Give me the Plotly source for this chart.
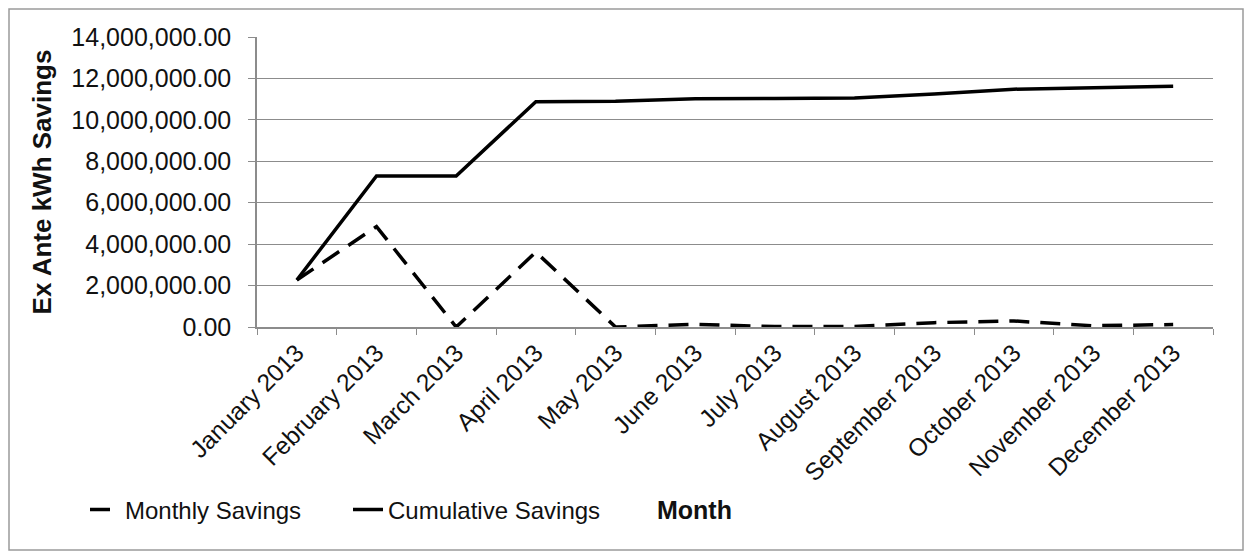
import plotly.graph_objects as go

# Month labels along the category axis
months = [
    "January 2013", "February 2013", "March 2013", "April 2013",
    "May 2013", "June 2013", "July 2013", "August 2013",
    "September 2013", "October 2013", "November 2013", "December 2013",
]

# Ex ante kWh savings per month
monthly_savings = [
    2270000, 4850000, 0, 3620000, 0, 130000,
    20000, 20000, 210000, 290000, 60000, 120000,
]

# Running total of ex ante kWh savings
cumulative_savings = [
    2270000, 7290000, 7290000, 10880000, 10900000, 11020000,
    11030000, 11050000, 11250000, 11480000, 11550000, 11620000,
]

FONT = "Liberation Sans, Arial, sans-serif"
INK = "#111111"
GRID = "#8c8c8c"

fig = go.Figure()

fig.add_trace(go.Scatter(
    x=months, y=monthly_savings, name="Monthly Savings",
    mode="lines", line=dict(color="black", width=3.5, dash="20px,11px"),
))
fig.add_trace(go.Scatter(
    x=months, y=cumulative_savings, name="Cumulative Savings",
    mode="lines", line=dict(color="black", width=3.5),
))

# plot area spans x 257..1213 px and y 37..327 px
L, R, T, B = 257, 1213, 37, 327
W, H = 1253, 555
pw, ph = R - L, B - T


def px(x):
    return (x - L) / pw


def py(y):
    return (B - y) / ph


fig.update_layout(
    width=W, height=H, autosize=False,
    margin=dict(l=L, r=W - R, t=T, b=H - B),
    paper_bgcolor="white", plot_bgcolor="white",
    font=dict(family=FONT, color=INK, size=24),
    showlegend=True,
    legend=dict(
        orientation="h", x=px(85), y=py(510),
        xanchor="left", yanchor="middle",
        font=dict(size=24, family=FONT, color=INK),
        bgcolor="rgba(0,0,0,0)", entrywidth=218, entrywidthmode="pixels",
        itemwidth=30,
    ),
    xaxis=dict(
        type="category", tickangle=-45, tickson="boundaries",
        ticks="outside", ticklen=6, tickcolor=GRID,
        showline=True, linecolor=GRID, linewidth=1.5,
        showgrid=False, zeroline=False,
        tickfont=dict(size=24.5, family=FONT, color=INK),
        range=[-0.5, 11.5],
    ),
    yaxis=dict(
        range=[0, 14000000], dtick=2000000, tickformat=",.2f",
        ticks="outside", ticklen=7, tickcolor=GRID,
        showline=True, linecolor=GRID, linewidth=1.5,
        showgrid=True, gridcolor=GRID, gridwidth=1.2, zeroline=False,
        tickfont=dict(size=25, family=FONT, color=INK),
        ticklabelstandoff=12,
        title=dict(text="<b>Ex Ante kWh Savings</b>", standoff=12,
                   font=dict(size=26, family=FONT, color=INK)),
    ),
    shapes=[dict(
        type="rect", xref="paper", yref="paper",
        x0=px(9), x1=px(1243), y0=py(550), y1=py(9),
        line=dict(color="#9a9a9a", width=1.5), fillcolor="rgba(0,0,0,0)",
        layer="below",
    )],
    annotations=[dict(
        text="<b>Month</b>", xref="paper", yref="paper",
        x=px(694), y=py(510), xanchor="center", yanchor="middle",
        showarrow=False, font=dict(size=25, family=FONT, color=INK),
    )],
)

fig.write_html("out.html")
